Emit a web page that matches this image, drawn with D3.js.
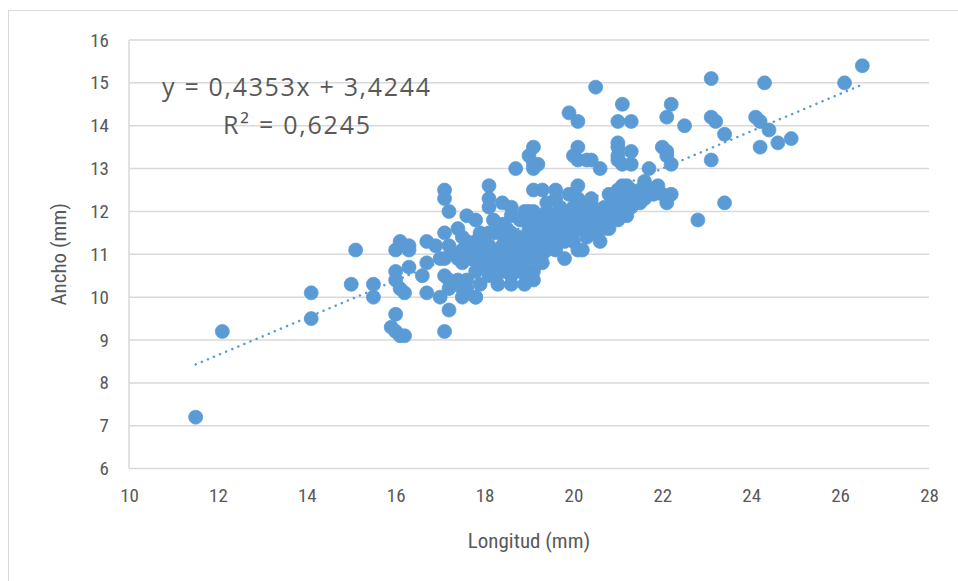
<!DOCTYPE html>
<html>
<head>
<meta charset="utf-8">
<script src="https://cdn.jsdelivr.net/npm/d3@7"></script>
<style>
  body { margin: 0; background: #fff; }
  text { fill: #595959; }
</style>
</head>
<body>
<script>
// Longitud vs Ancho (mm)
var longitud = [
  11.5, 12.1, 14.1, 14.1, 15.1, 15.0, 15.5, 15.5,
  16.0, 15.9, 16.1, 16.2, 16.0, 16.1, 16.3, 16.0, 16.3, 16.0, 16.0, 16.2, 16.3, 16.1,
  16.6, 16.7, 16.7, 16.7,
  17.1, 17.2, 17.0, 17.2, 17.1, 17.2, 17.6, 17.5, 17.8, 17.4, 17.5,
  17.0, 17.4, 17.7, 17.1, 17.2, 17.1, 17.5, 17.5, 17.5,
  17.1, 17.1, 17.2, 17.6, 17.8,
  18.1, 18.1, 18.1, 18.4, 18.6, 18.7, 19.0, 19.1, 19.1, 19.2,
  18.2, 18.6, 17.9, 18.1, 18.3, 18.1, 18.4, 18.7, 19.0,
  18.2, 18.6, 19.0, 19.2, 18.1, 18.3, 18.6, 19.1, 18.9, 18.4, 18.8,
  17.6, 17.7, 17.6, 17.8,
  19.0, 19.1, 19.4, 19.6, 19.1, 19.3, 19.6, 20.1, 19.9, 20.0, 20.1, 19.8,
  19.0, 19.3, 18.6, 19.7, 20.0, 20.2, 20.6, 19.8, 20.1, 19.4, 19.1,
  20.1, 20.4, 20.8, 21.0, 21.2, 19.9, 20.2, 20.4, 20.7, 21.0, 21.2,
  20.4, 21.3, 21.6, 21.9, 22.2, 22.1, 21.1, 21.0, 21.3, 21.5, 21.0,
  20.0, 20.3, 20.6, 21.0, 20.1, 20.1, 20.4, 21.0, 21.0, 21.3, 21.1, 21.3,
  22.0, 22.1, 22.2, 22.1, 21.7, 21.0, 19.1,
  19.9, 20.1, 20.5, 21.1, 21.0, 21.3, 22.2, 22.1, 22.5,
  23.1, 24.3, 23.1, 23.2, 23.4, 23.1, 24.1, 24.2, 24.4, 24.6, 24.2, 24.9,
  26.1, 26.5, 23.4, 22.8,
  18.0, 18.2, 18.4, 18.5, 18.7, 18.8, 18.9, 19.0, 19.2, 19.3, 19.4, 19.5,
  19.6, 19.7, 19.8, 19.9, 20.0, 20.0, 20.2, 20.3, 20.4, 20.5, 20.6, 20.7,
  20.8, 20.9, 21.1, 21.2, 21.4, 21.5, 21.7, 18.3, 18.5, 18.7, 18.9, 19.3,
  19.5, 19.6, 19.8, 20.0, 18.5, 18.8, 19.1, 18.9, 19.4, 19.7, 20.2, 18.4,
  18.0, 18.1, 17.9, 17.8, 17.9, 18.3, 18.6, 19.3, 19.0, 20.3, 20.5, 20.8,
  21.1, 19.2, 19.5, 19.7, 20.0, 20.3, 20.6, 20.9, 21.4, 21.6, 21.8, 22.0,
  17.3, 17.4, 17.8, 18.2, 18.8, 19.2, 19.5, 19.8, 20.1, 20.5, 20.9, 21.3,
  17.8, 18.0, 18.3, 17.9, 18.5, 19.0, 19.2, 18.6, 17.3, 16.9
];
var ancho = [
  7.2, 9.2, 10.1, 9.5, 11.1, 10.3, 10.3, 10.0,
  9.6, 9.3, 9.1, 9.1, 9.2, 11.3, 11.1, 11.1, 11.2, 10.6, 10.4, 10.1, 10.7, 10.2,
  10.5, 10.1, 10.8, 11.3,
  10.5, 10.4, 10.0, 9.7, 9.2, 10.2, 10.4, 10.0, 10.0, 10.4, 10.2,
  10.9, 10.9, 10.9, 11.5, 11.2, 10.9, 11.4, 11.1, 10.8,
  12.5, 12.3, 12.0, 11.9, 11.8,
  12.6, 12.3, 12.1, 12.2, 12.1, 13.0, 13.3, 13.5, 13.1, 13.1,
  11.8, 11.9, 11.5, 11.5, 11.5, 11.2, 11.2, 11.2, 11.2,
  10.8, 10.8, 10.9, 10.9, 10.5, 10.6, 10.3, 10.4, 10.3, 10.6, 10.6,
  11.3, 10.9, 10.2, 10.0,
  12.0, 12.0, 12.2, 12.3, 12.5, 12.5, 12.5, 12.6, 12.4, 12.4, 12.2, 12.0,
  11.6, 11.5, 11.5, 11.3, 11.3, 11.1, 11.3, 10.9, 11.1, 11.4, 10.6,
  12.3, 12.3, 12.4, 12.5, 12.6, 11.8, 11.9, 11.7, 11.6, 11.8, 11.9,
  12.2, 12.5, 12.7, 12.6, 12.4, 12.2, 12.6, 12.3, 12.1, 12.2, 11.9,
  13.3, 13.2, 13.0, 13.2, 13.5, 13.2, 13.2, 13.5, 13.3, 13.4, 13.1, 13.1,
  13.5, 13.3, 13.1, 13.4, 13.0, 13.6, 13.0,
  14.3, 14.1, 14.9, 14.5, 14.1, 14.1, 14.5, 14.2, 14.0,
  15.1, 15.0, 14.2, 14.1, 13.8, 13.2, 14.2, 14.1, 13.9, 13.6, 13.5, 13.7,
  15.0, 15.4, 12.2, 11.8,
  11.0, 11.1, 11.0, 11.3, 11.0, 11.4, 11.1, 11.4, 11.6, 11.8, 11.1, 11.7,
  11.5, 11.9, 11.6, 11.4, 11.7, 12.0, 11.6, 12.1, 11.9, 12.0, 11.8, 12.1,
  11.9, 12.2, 12.0, 12.3, 12.4, 12.5, 12.5, 10.9, 10.7, 10.9, 10.7, 11.0,
  11.3, 11.1, 11.3, 11.5, 11.6, 11.8, 11.8, 12.0, 12.0, 12.1, 12.0, 11.7,
  10.7, 10.9, 11.2, 10.6, 10.3, 10.3, 10.5, 10.8, 10.5, 11.4, 11.5, 11.6,
  12.1, 11.9, 11.9, 11.7, 12.1, 11.8, 11.9, 12.0, 12.2, 12.3, 12.4, 12.4,
  11.0, 11.6, 11.3, 10.9, 11.0, 11.2, 11.4, 11.6, 11.8, 11.7, 11.9, 12.3,
  11.1, 11.3, 11.0, 10.8, 10.9, 11.0, 11.3, 11.1, 11.0, 11.2
];

var xTicks = [10, 12, 14, 16, 18, 20, 22, 24, 26, 28];
var yTicks = [6, 7, 8, 9, 10, 11, 12, 13, 14, 15, 16];
var slope = 0.4353, intercept = 3.4244;
var ecuacion = "y = 0,4353x + 3,4244";
var r2 = "R² = 0,6245";

var width = 958, height = 581;
var mLeft = 129, mRight = 929, mTop = 40, mBottom = 468.6;

var svg = d3.select("body").append("svg")
    .attr("width", width)
    .attr("height", height);

svg.append("rect")
    .attr("x", 8.5).attr("y", 10.5)
    .attr("width", 1000).attr("height", 700)
    .style("fill", "#fff")
    .style("stroke", "#d9d9d9");

var x = d3.scaleLinear().domain([10, 28]).range([mLeft, mRight]);
var y = d3.scaleLinear().domain([6, 16]).range([mBottom, mTop]);

var labelFont = "'Liberation Sans Narrow', 'Roboto Condensed', 'DejaVu Sans Condensed', sans-serif";

// horizontal gridlines
svg.append("g")
  .selectAll("line")
  .data(yTicks)
  .enter().append("line")
    .attr("x1", mLeft).attr("x2", mRight)
    .attr("y1", function(d) { return y(d); })
    .attr("y2", function(d) { return y(d); })
    .style("stroke", "#d9d9d9")
    .style("stroke-width", 1.5);

// left axis line
svg.append("line")
    .attr("x1", mLeft).attr("x2", mLeft)
    .attr("y1", mTop).attr("y2", mBottom)
    .style("stroke", "#d9d9d9")
    .style("stroke-width", 1.5);

var yAxis = d3.axisLeft(y).tickValues(yTicks).tickSize(0).tickPadding(20);
var gy = svg.append("g").attr("transform", "translate(" + mLeft + ",0)").call(yAxis);
gy.select(".domain").remove();
gy.selectAll("text").style("font-family", labelFont).style("font-size", "19px").style("fill", "#595959");

var xAxis = d3.axisBottom(x).tickValues(xTicks).tickSize(0).tickPadding(20);
var gx = svg.append("g").attr("transform", "translate(0," + mBottom + ")").call(xAxis);
gx.select(".domain").remove();
gx.selectAll("text").style("font-family", labelFont).style("font-size", "19px").style("fill", "#595959");

svg.append("text")
    .attr("x", (mLeft + mRight) / 2)
    .attr("y", 548)
    .attr("text-anchor", "middle")
    .style("font-family", labelFont)
    .style("font-size", "21px")
    .text("Longitud (mm)");

svg.append("text")
    .attr("transform", "translate(66," + ((mTop + mBottom) / 2) + ") rotate(-90)")
    .attr("text-anchor", "middle")
    .style("font-family", labelFont)
    .style("font-size", "21px")
    .text("Ancho (mm)");

var puntos = d3.zip(longitud, ancho);

svg.append("g")
  .selectAll("circle")
  .data(puntos)
  .enter().append("circle")
    .attr("cx", function(d) { return x(d[0]); })
    .attr("cy", function(d) { return y(d[1]); })
    .attr("r", 7)
    .style("fill", "#5b9bd5")
    .style("stroke", "#5b9bd5")
    .style("stroke-width", 0.75);

// linear trendline over the data range
var xMin = d3.min(longitud), xMax = d3.max(longitud);
svg.append("line")
    .attr("x1", x(xMin)).attr("y1", y(slope * xMin + intercept))
    .attr("x2", x(xMax)).attr("y2", y(slope * xMax + intercept))
    .style("stroke", "#5b9bd5")
    .style("stroke-width", 2.5)
    .style("stroke-linecap", "round")
    .style("stroke-dasharray", "0.1,6.5");

svg.append("text")
    .attr("x", 162).attr("y", 96)
    .attr("textLength", 268)
    .style("font-family", "'Open Sans', sans-serif")
    .style("font-size", "25px")
    .text(ecuacion);

svg.append("text")
    .attr("x", 223).attr("y", 134)
    .attr("textLength", 147)
    .style("font-family", "'Open Sans', sans-serif")
    .style("font-size", "25px")
    .text(r2);
</script>
</body>
</html>
